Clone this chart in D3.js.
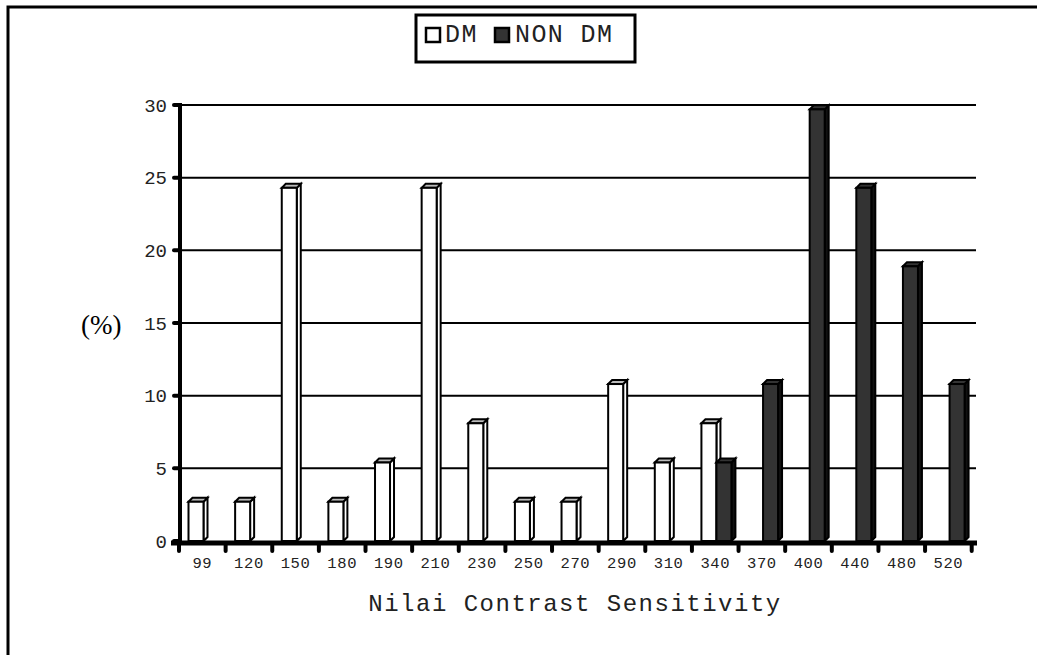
<!DOCTYPE html>
<html><head><meta charset="utf-8">
<script src="https://cdn.jsdelivr.net/npm/d3@7"></script>
<style>
html,body{margin:0;padding:0;background:#fff;}
svg{display:block;}
.mono{font-family:"Courier New","Liberation Mono",monospace;}
</style></head>
<body>
<script>
const categories = ["99","120","150","180","190","210","230","250","270","290","310","340","370","400","440","480","520"];
const dmValues = [2.7,2.7,24.3,2.7,5.4,24.3,8.1,2.7,2.7,10.8,5.4,8.1,0,0,0,0,0];
const nonDmValues = [0,0,0,0,0,0,0,0,0,0,0,5.4,10.8,29.7,24.3,18.9,10.8];
const seriesNames = ["DM","NON DM"];
const yTicks = [0,5,10,15,20,25,30];
const xTitle = "Nilai Contrast Sensitivity";
const yTitle = "(%)";

const W = 1037, H = 655;
const svg = d3.select("body").append("svg").attr("width", W).attr("height", H);

// outer frame
svg.append("rect").attr("x",8).attr("y",7).attr("width",1040).attr("height",700)
  .attr("fill","none").attr("stroke","#000").attr("stroke-width",3);

const x = d3.scaleBand().domain(categories).range([179, 971.7]).padding(0);
const xs = d3.scaleBand().domain(seriesNames).range([9.5, 39.5]);
const y = d3.scaleLinear().domain([0,30]).range([541, 105]);

// gridlines
svg.append("g").selectAll("line").data(yTicks.filter(t=>t>0)).join("line")
  .attr("x1",181).attr("x2",976).attr("y1",d=>y(d)).attr("y2",d=>y(d))
  .attr("stroke","#000").attr("stroke-width",2);

// bars
const depth = 4;
const series = [
  {name:"DM", values: dmValues, front:"#fff", side:"#fff", top:"#bbb"},
  {name:"NON DM", values: nonDmValues, front:"#333", side:"#111", top:"#333"}
];
const barsG = svg.append("g");
categories.forEach((c,i)=>{
  series.forEach(s=>{
    const v = s.values[i];
    if(!v) return;
    const x0 = x(c) + xs(s.name), w = xs.bandwidth();
    const yt = y(v), yb = y(0);
    const g = barsG.append("g").attr("stroke","#000").attr("stroke-width",2).attr("stroke-linejoin","miter");
    g.append("polygon").attr("points",[[x0+w,yt],[x0+w+depth,yt-depth],[x0+w+depth,yb-depth],[x0+w,yb]].join(" ")).attr("fill",s.side);
    g.append("polygon").attr("points",[[x0,yt],[x0+depth,yt-depth],[x0+w+depth,yt-depth],[x0+w,yt]].join(" ")).attr("fill",s.top);
    g.append("rect").attr("x",x0).attr("y",yt).attr("width",w).attr("height",yb-yt).attr("fill",s.front);
  });
});

// y axis
svg.append("line").attr("x1",180).attr("x2",180).attr("y1",103).attr("y2",545)
  .attr("stroke","#000").attr("stroke-width",4);
svg.append("g").selectAll("line").data(yTicks).join("line")
  .attr("x1",174).attr("x2",180).attr("y1",d=>y(d)).attr("y2",d=>y(d))
  .attr("stroke","#000").attr("stroke-width",4).attr("stroke-linecap","round");
svg.append("g").selectAll("text").data(yTicks).join("text")
  .attr("class","mono").attr("x",167).attr("y",d=>y(d)).attr("dy","0.35em")
  .attr("text-anchor","end").attr("font-size",19).attr("fill","#222").text(d=>d);

// x axis
svg.append("line").attr("x1",171).attr("x2",977).attr("y1",543).attr("y2",543)
  .attr("stroke","#000").attr("stroke-width",5);
const xTickPos = categories.map(c=>x(c)).concat([x.range()[1]]);
svg.append("g").selectAll("line").data(xTickPos).join("line")
  .attr("x1",d=>d).attr("x2",d=>d).attr("y1",543).attr("y2",551)
  .attr("stroke","#000").attr("stroke-width",4).attr("stroke-linecap","round");
svg.append("g").selectAll("text").data(categories).join("text")
  .attr("class","mono").attr("x",c=>x(c)+x.bandwidth()/2).attr("y",568)
  .attr("text-anchor","middle").attr("font-size",15.5).attr("letter-spacing",0.6)
  .attr("fill","#222").text(c=>c);

// titles
svg.append("text").attr("class","mono").attr("x",575).attr("y",611)
  .attr("text-anchor","middle").attr("font-size",24).attr("letter-spacing",1.5)
  .attr("fill","#222").text(xTitle);
svg.append("text").attr("x",81).attr("y",334)
  .attr("font-family","'Times New Roman','Liberation Serif',serif").attr("font-size",27)
  .attr("fill","#000").text(yTitle);

// legend
const lg = svg.append("g");
lg.append("rect").attr("x",416).attr("y",15).attr("width",219).attr("height",47)
  .attr("fill","#fff").attr("stroke","#000").attr("stroke-width",3);
const legItems = [
  {name:seriesNames[0], fill:"#fff", sx:426, tx:445},
  {name:seriesNames[1], fill:"#333", sx:495, tx:515}
];
legItems.forEach(it=>{
  lg.append("rect").attr("x",it.sx).attr("y",28).attr("width",14).attr("height",14)
    .attr("fill",it.fill).attr("stroke","#000").attr("stroke-width",2.5);
  lg.append("text").attr("class","mono").attr("x",it.tx).attr("y",42)
    .attr("font-size",25).attr("letter-spacing",1.4).attr("fill","#222").text(it.name);
});
</script>
</body></html>
